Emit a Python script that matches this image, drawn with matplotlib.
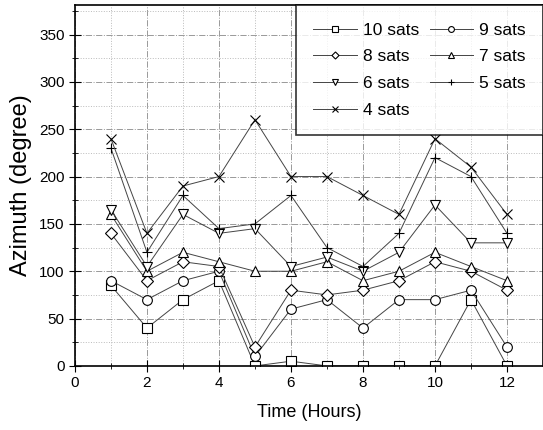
import numpy as np
import matplotlib.pyplot as plt
from matplotlib.ticker import MultipleLocator

plt.rcParams['font.family'] = ['Liberation Sans', 'DejaVu Sans']

hours = [1, 2, 3, 4, 5, 6, 7, 8, 9, 10, 11, 12]
sats10 = [85, 40, 70, 90, 0, 5, 0, 0, 0, 0, 70, 0]
sats9 = [90, 70, 90, 100, 10, 60, 70, 40, 70, 70, 80, 20]
sats8 = [140, 90, 110, 105, 20, 80, 75, 80, 90, 110, 100, 80]
sats7 = [160, 100, 120, 110, 100, 100, 110, 90, 100, 120, 105, 90]
sats6 = [165, 105, 160, 140, 145, 105, 115, 100, 120, 170, 130, 130]
sats5 = [230, 120, 180, 145, 150, 180, 125, 105, 140, 220, 200, 140]
sats4 = [240, 140, 190, 200, 260, 200, 200, 180, 160, 240, 210, 160]

series = [
    ('10 sats', sats10, 's'),
    ('9 sats', sats9, 'o'),
    ('8 sats', sats8, 'D'),
    ('7 sats', sats7, '^'),
    ('6 sats', sats6, 'v'),
    ('5 sats', sats5, '+'),
    ('4 sats', sats4, 'x'),
]

fig = plt.figure(figsize=(5.43, 4.3), dpi=100)
ax = fig.add_axes([0.138, 0.149, 0.862, 0.839])

lines = []
for label, vals, m in series:
    ms = 6 if m == 'D' else 7
    ln, = ax.plot(hours, vals, color='#444444', linewidth=0.7, marker=m,
                  markersize=ms, markerfacecolor='white', markeredgecolor='black',
                  markeredgewidth=0.8, label=label)
    lines.append(ln)

ax.set_xlim(0, 13)
ax.set_ylim(0, 381)
ax.xaxis.set_major_locator(MultipleLocator(2))
ax.xaxis.set_minor_locator(MultipleLocator(1))
ax.yaxis.set_major_locator(MultipleLocator(50))
ax.yaxis.set_minor_locator(MultipleLocator(25))
ax.grid(True, which='major', color='#999999', linestyle='-.', linewidth=0.7)
ax.grid(True, which='minor', color='#bbbbbb', linestyle=':', linewidth=0.7)
ax.tick_params(which='both', direction='inout', labelsize=11)
ax.tick_params(which='major', length=8)
ax.tick_params(which='minor', length=4)

for s in ax.spines.values():
    s.set_linewidth(1.2)

ax.set_xlabel('Time (Hours)', fontsize=13, labelpad=10)
ax.set_ylabel('Azimuth (degree)', fontsize=17, labelpad=5)

# legend filled row by row: 10/9, 8/7, 6/5, 4
order = [0, 2, 4, 6, 1, 3, 5]
leg = ax.legend([lines[i] for i in order], [series[i][0] for i in order],
                loc='upper right', ncol=2, fontsize=12.5, frameon=True,
                fancybox=False, edgecolor='black', handlelength=2.5,
                columnspacing=0.6, handletextpad=0.35, labelspacing=0.67,
                borderpad=1.0, borderaxespad=0.0, markerscale=0.6)
leg.get_frame().set_linewidth(1.2)

plt.savefig('out.png', dpi=100)
